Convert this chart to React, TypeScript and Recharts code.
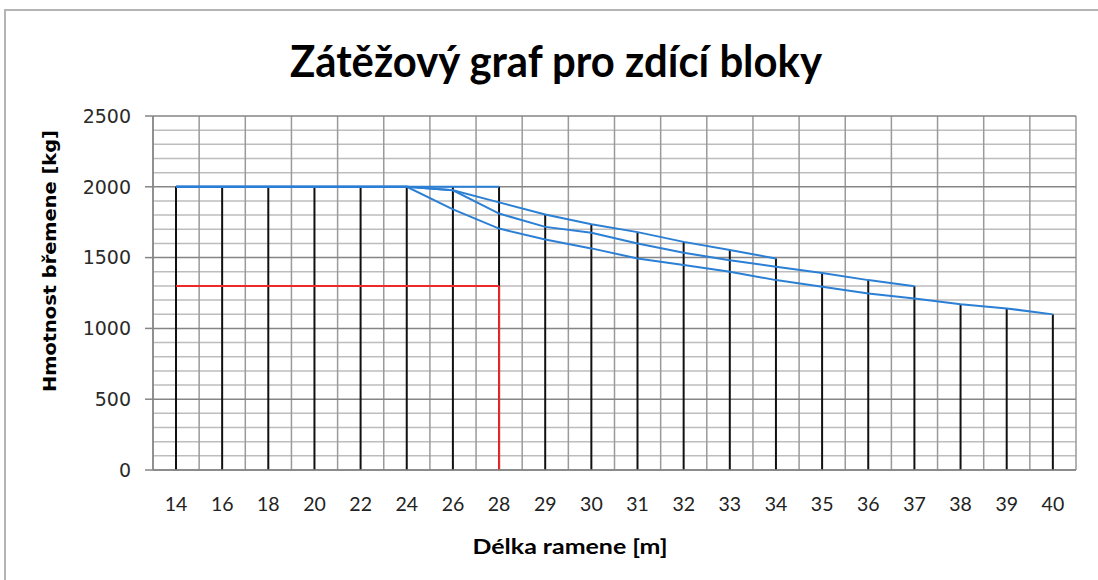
import React from 'react';
import { ComposedChart, Line, Bar, XAxis, YAxis, CartesianGrid, ErrorBar } from 'recharts';

// Jib reach categories [m]
const categories = ['14', '16', '18', '20', '22', '24', '26', '28', '29', '30', '31', '32', '33', '34', '35', '36', '37', '38', '39', '40'];

// Load curves [kg] for the individual jib lengths
const jib28 = [2000, 2000, 2000, 2000, 2000, 2000, 2000, 2000, null, null, null, null, null, null, null, null, null, null, null, null];
const jib34 = [2000, 2000, 2000, 2000, 2000, 2000, 1975, 1890, 1805, 1736, 1680, 1611, 1553, 1494, null, null, null, null, null, null];
const jib37 = [2000, 2000, 2000, 2000, 2000, 2000, 1975, 1811, 1717, 1675, 1600, 1534, 1482, 1435, 1392, 1341, 1298, null, null, null];
const jib40 = [2000, 2000, 2000, 2000, 2000, 2000, 1840, 1705, 1628, 1565, 1494, 1447, 1400, 1341, 1294, 1247, 1211, 1170, 1141, 1099];

// Blocks load (red)
const blocks = [1300, 1300, 1300, 1300, 1300, 1300, 1300, 1300, null, null, null, null, null, null, null, null, null, null, null, null];
const blocksDrop = [null, null, null, null, null, null, null, [1300, 0], null, null, null, null, null, null, null, null, null, null, null, null];

const yTicks = [0, 500, 1000, 1500, 2000, 2500];
const yMinor = [100, 200, 300, 400, 600, 700, 800, 900, 1100, 1200, 1300, 1400, 1600, 1700, 1800, 1900, 2100, 2200, 2300, 2400];

const data = categories.map((cat, i) => {
  const vals = [jib28[i], jib34[i], jib37[i], jib40[i]].filter((v) => v != null) as number[];
  return {
    cat,
    a: jib28[i],
    b: jib34[i],
    c: jib37[i],
    d: jib40[i],
    drop: vals.length ? Math.max(...vals) : null,
    red: blocks[i],
    redErr: blocksDrop[i],
  };
});

const hGen = (values: number[]) => (props: any) => {
  const { yAxis, offset } = props;
  const s = yAxis && yAxis.scale;
  if (typeof s === 'function') return values.map((v) => s(v));
  return values.map((v) => offset.top + offset.height * (1 - v / 2500));
};

const vGen = (props: any) => {
  const { offset } = props;
  const n = categories.length;
  return Array.from({ length: n + 1 }, (_, i) => offset.left + (i * offset.width) / n);
};

const BLUE = '#2b7fd4';
const RED = '#f0282a';

export default function App() {
  return (
    <div style={{ position: 'absolute', left: 0, top: 0, width: 1098, height: 580, overflow: 'hidden', background: '#fff' }}>
      <div
        style={{
          position: 'absolute',
          left: 4,
          top: 9,
          width: 1300,
          height: 800,
          border: '2px solid #b4b4b4',
        }}
      />
      <div style={{ position: 'absolute', left: 0, top: 0 }}>
        <ComposedChart
          width={1098}
          height={580}
          data={data}
          margin={{ top: 116, right: 22, bottom: 70, left: 93 }}
        >
          <CartesianGrid stroke="#bdbdbd" strokeWidth={1.5} vertical={false} horizontalCoordinatesGenerator={hGen(yMinor)} />
          <CartesianGrid stroke="#9a9a9a" strokeWidth={1.5} horizontal={false} verticalCoordinatesGenerator={vGen} />
          <CartesianGrid stroke="#858585" strokeWidth={1.5} vertical={false} horizontalCoordinatesGenerator={hGen(yTicks)} />
          <XAxis
            dataKey="cat"
            type="category"
            interval={0}
            tickLine={false}
            tickSize={0}
            tickMargin={27}
            height={40}
            axisLine={{ stroke: '#858585', strokeWidth: 1.5 }}
            tick={{ fill: '#222', fontSize: 19.5, fontFamily: 'Lato, "Open Sans", sans-serif' }}
          />
          <YAxis
            type="number"
            domain={[0, 2500]}
            ticks={yTicks}
            interval={0}
            width={60}
            tickSize={8}
            tickMargin={14}
            tickLine={{ stroke: '#858585', strokeWidth: 1.5 }}
            axisLine={{ stroke: '#858585', strokeWidth: 1.5 }}
            tick={{ fill: '#2a2a2a', fontSize: 19, fontFamily: '"DejaVu Sans", Verdana, sans-serif' }}
          />
          <Bar dataKey="drop" barSize={2} fill="#111" isAnimationActive={false} />
          <Line type="linear" dataKey="a" stroke={BLUE} strokeWidth={2} dot={false} activeDot={false} isAnimationActive={false} />
          <Line type="linear" dataKey="b" stroke={BLUE} strokeWidth={2} dot={false} activeDot={false} isAnimationActive={false} />
          <Line type="linear" dataKey="c" stroke={BLUE} strokeWidth={2} dot={false} activeDot={false} isAnimationActive={false} />
          <Line type="linear" dataKey="d" stroke={BLUE} strokeWidth={2} dot={false} activeDot={false} isAnimationActive={false} />
          <Line type="linear" dataKey="red" stroke={RED} strokeWidth={2} dot={false} activeDot={false} isAnimationActive={false}>
            <ErrorBar dataKey="redErr" direction="y" width={0} stroke={RED} strokeWidth={2} />
          </Line>
        </ComposedChart>
      </div>
      <svg
        width={1098}
        height={580}
        style={{ position: 'absolute', left: 0, top: 0, pointerEvents: 'none' }}
      >
        <text
          x={556}
          y={77}
          textAnchor="middle"
          fontFamily='Lato, "Open Sans", sans-serif'
          fontWeight={700}
          fontSize={43}
          fill="#000"
          textLength={532}
          lengthAdjust="spacingAndGlyphs"
        >
          Zátěžový graf pro zdící bloky
        </text>
        <text
          x={570}
          y={554}
          textAnchor="middle"
          fontFamily='Lato, "Open Sans", sans-serif'
          fontWeight={700}
          fontSize={20}
          fill="#000"
          textLength={195}
          lengthAdjust="spacingAndGlyphs"
        >
          Délka ramene [m]
        </text>
        <text
          x={0}
          y={0}
          transform="translate(56 261) rotate(-90)"
          textAnchor="middle"
          fontFamily='"DejaVu Sans", Verdana, sans-serif'
          fontWeight={700}
          fontSize={17}
          fill="#000"
          textLength={262}
          lengthAdjust="spacingAndGlyphs"
        >
          Hmotnost břemene [kg]
        </text>
      </svg>
    </div>
  );
}
